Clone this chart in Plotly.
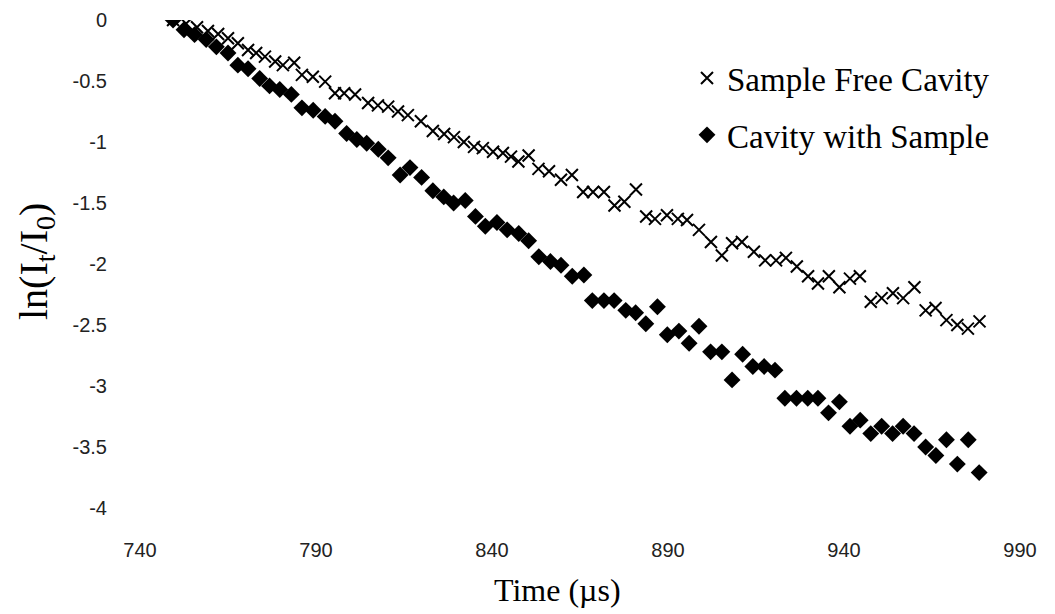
import plotly.graph_objects as go

# Sample Free Cavity (crosses)
free_t = [749.4, 753.1, 756.2, 759.3, 762.2, 765.0, 767.8, 770.7, 773.0, 775.5,
          778.4, 780.6, 783.8, 786.0, 789.1, 792.6, 795.4, 798.0, 801.1, 804.8,
          807.6, 810.5, 813.3, 816.1, 819.8, 823.2, 826.4, 829.2, 832.0, 834.9,
          837.4, 840.3, 843.1, 845.4, 847.5, 850.4, 853.2, 856.2, 859.6, 862.7,
          865.9, 868.7, 871.8, 874.8, 877.6, 880.9, 883.8, 886.3, 889.7, 892.8,
          895.4, 898.8, 902.2, 905.3, 908.2, 911.0, 914.4, 917.6, 920.7, 923.5,
          926.6, 929.8, 932.6, 935.7, 938.7, 941.7, 944.5, 947.6, 950.7, 953.9,
          956.8, 960.0, 963.2, 966.0, 969.1, 972.2, 975.2, 978.5]
free_ln = [0.0, -0.03, -0.06, -0.09, -0.115, -0.15, -0.19, -0.246, -0.27, -0.30,
           -0.34, -0.37, -0.35, -0.45, -0.465, -0.505, -0.60, -0.60, -0.61, -0.68,
           -0.70, -0.71, -0.75, -0.78, -0.83, -0.91, -0.935, -0.96, -1.00, -1.04,
           -1.05, -1.08, -1.09, -1.12, -1.16, -1.11, -1.22, -1.24, -1.31, -1.27,
           -1.41, -1.41, -1.41, -1.52, -1.49, -1.39, -1.61, -1.63, -1.60, -1.63,
           -1.64, -1.72, -1.82, -1.93, -1.83, -1.82, -1.90, -1.97, -1.97, -1.95,
           -2.02, -2.10, -2.16, -2.10, -2.19, -2.12, -2.10, -2.31, -2.28, -2.24,
           -2.28, -2.19, -2.38, -2.36, -2.46, -2.50, -2.53, -2.47]

# Cavity with Sample (filled diamonds)
samp_t = [749.4, 752.5, 755.5, 758.8, 761.7, 765.0, 767.8, 770.7, 774.0, 776.8,
          779.7, 783.0, 786.0, 789.2, 792.6, 795.4, 798.7, 801.6, 804.4, 807.7,
          810.5, 813.9, 816.7, 820.0, 823.2, 826.3, 829.1, 832.4, 835.3, 838.1,
          841.4, 844.3, 847.6, 850.4, 853.3, 856.6, 859.6, 862.8, 866.1, 868.5,
          871.8, 874.7, 878.0, 880.8, 883.7, 887.0, 889.8, 893.1, 896.0, 898.8,
          902.1, 905.3, 908.2, 911.2, 914.1, 917.3, 920.4, 923.2, 926.5, 929.7,
          932.6, 935.6, 938.7, 941.7, 944.6, 947.6, 950.7, 953.8, 956.8, 959.9,
          963.2, 966.1, 969.1, 972.2, 975.3, 978.4]
samp_ln = [0.0, -0.08, -0.12, -0.16, -0.22, -0.27, -0.37, -0.40, -0.48, -0.54,
           -0.57, -0.61, -0.72, -0.74, -0.79, -0.83, -0.93, -0.98, -1.01, -1.06,
           -1.13, -1.27, -1.21, -1.29, -1.40, -1.45, -1.50, -1.48, -1.61, -1.69,
           -1.66, -1.72, -1.75, -1.81, -1.94, -1.98, -2.01, -2.10, -2.09, -2.30,
           -2.30, -2.30, -2.38, -2.40, -2.49, -2.35, -2.58, -2.55, -2.65, -2.51,
           -2.72, -2.72, -2.95, -2.74, -2.84, -2.84, -2.87, -3.10, -3.10, -3.10,
           -3.10, -3.22, -3.13, -3.33, -3.28, -3.39, -3.33, -3.39, -3.33, -3.39,
           -3.50, -3.57, -3.44, -3.64, -3.44, -3.71]

x_ticks = [740, 790, 840, 890, 940, 990]
y_ticks = [0, -0.5, -1, -1.5, -2, -2.5, -3, -3.5, -4]
y_tick_text = ["0", "-0.5", "-1", "-1.5", "-2", "-2.5", "-3", "-3.5", "-4"]

# figure geometry (page body adds an 8px offset)
W, H = 1040, 606
L, R, T, B = 132, 28, 12, 106
pw, ph = W - L - R, H - T - B


def px(xs):
    return (xs - 8 - L) / pw


def py(ys):
    return (H - B - (ys - 8)) / ph


fig = go.Figure()
fig.add_trace(go.Scatter(
    x=free_t, y=free_ln, mode="markers", name="Sample Free Cavity",
    legendgroup="a",
    marker=dict(symbol="x-thin-open", size=12, color="black",
                line=dict(width=2, color="black")),
))
fig.add_trace(go.Scatter(
    x=samp_t, y=samp_ln, mode="markers", name="Cavity with Sample",
    legendgroup="b",
    marker=dict(symbol="diamond", size=13, color="black",
                line=dict(width=0)),
))

tick_font = dict(family="Liberation Sans", size=20, color="#222")
serif = "Liberation Serif"
fig.update_layout(
    width=W, height=H,
    margin=dict(l=L, r=R, t=T, b=B, autoexpand=False),
    paper_bgcolor="white", plot_bgcolor="white",
    showlegend=True,
    legend=dict(x=px(687), y=py(50), xanchor="left", yanchor="top",
                font=dict(family=serif, size=33, color="black"),
                bgcolor="rgba(0,0,0,0)", tracegroupgap=11),
    xaxis=dict(range=[740, 990], tickvals=x_ticks, showgrid=False, zeroline=False,
               showline=False, ticks="", tickfont=tick_font, ticklabelstandoff=28,
               automargin=False),
    yaxis=dict(range=[-4, 0], tickvals=y_ticks, ticktext=y_tick_text, showgrid=False,
               zeroline=False, showline=False, ticks="", tickfont=tick_font,
               ticklabelstandoff=32, automargin=False),
    annotations=[
        dict(text="Time (µs)", x=px(557), y=py(590), xref="paper", yref="paper",
             xanchor="center", yanchor="middle", showarrow=False,
             font=dict(family=serif, size=32, color="black")),
        dict(text="ln(I<sub>t</sub>/I<sub>0</sub>)", x=px(36), y=py(262),
             xref="paper", yref="paper", xanchor="center", yanchor="middle",
             textangle=-90, showarrow=False,
             font=dict(family=serif, size=40, color="black")),
    ],
)

fig.write_html("out.html")
